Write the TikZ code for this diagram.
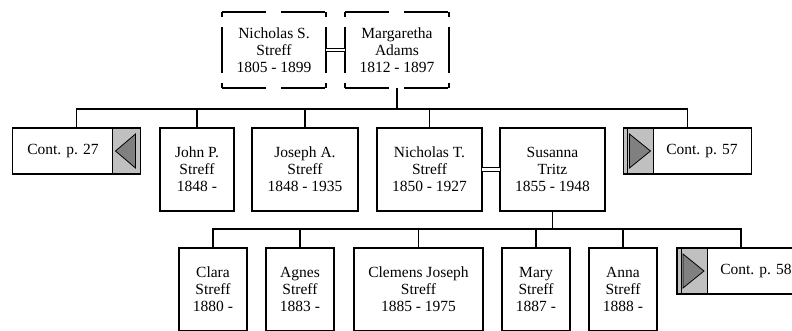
\documentclass[tikz,border=0pt]{standalone}
\usepackage{fontspec}
\setmainfont{Liberation Serif}
\definecolor{panelgray}{HTML}{C0C0C0}
\definecolor{arrowgray}{HTML}{808080}
\tikzset{
  person/.style={draw, line width=1.2pt, minimum height=83pt, inner sep=0pt, outer sep=0pt, align=center},
  parent/.style={minimum width=104pt, minimum height=76pt, inner sep=0pt, outer sep=0pt, align=center},
  hside/.style={line width=1.2pt, dash pattern=on 44pt off 15pt},
  vside/.style={line width=1.2pt, dash pattern=on 5pt off 10pt on 46pt off 10pt},
  contbox/.style={draw, line width=1.6pt, minimum width=128pt, minimum height=46pt, inner sep=0pt, outer sep=0pt},
  pointer/.style={fill=arrowgray, draw, line width=0.8pt},
  contleft/.style={contbox, path picture={
    \fill[panelgray] ([xshift=-28pt]path picture bounding box.north east) rectangle (path picture bounding box.south east);
    \draw[line width=0.6pt] ([xshift=-28pt]path picture bounding box.north east) -- ([xshift=-28pt]path picture bounding box.south east);
    \draw[pointer] ([xshift=-25pt]path picture bounding box.east) -- ([shift={(-5,-17)}]path picture bounding box.east)
      -- ([shift={(-5,17)}]path picture bounding box.east) -- cycle;}},
  contright/.style={contbox, path picture={
    \fill[panelgray] (path picture bounding box.north west) rectangle ([xshift=30pt]path picture bounding box.south west);
    \draw[line width=0.6pt] ([xshift=30pt]path picture bounding box.north west) -- ([xshift=30pt]path picture bounding box.south west);
    \draw[line width=0.8pt] ([xshift=4pt]path picture bounding box.north west) -- ([xshift=4pt]path picture bounding box.south west);
    \draw[pointer] ([xshift=27pt]path picture bounding box.west) -- ([shift={(6,-17)}]path picture bounding box.west)
      -- ([shift={(6,17)}]path picture bounding box.west) -- cycle;}},
  line/.style={line width=1.2pt},
  marriage/.style={double, double distance=2.5pt, line width=0.9pt}
}
\begin{document}
\begin{tikzpicture}[x=1pt, y=-1pt, font=\fontsize{15.5}{17}\selectfont]
  \clip (0,0) rectangle (792,330);
  % parents
  \node[parent] (nicholasS) at (274,50) {Nicholas S.\\Streff\\1805 - 1899};
  \node[parent] (margaretha) at (397,50) {Margaretha\\Adams\\1812 - 1897};
  \foreach \n in {nicholasS,margaretha} {
    \draw[hside] (\n.north west) -- (\n.north east);
    \draw[hside] (\n.south west) -- (\n.south east);
    \draw[vside] (\n.north west) -- (\n.south west);
    \draw[vside] (\n.north east) -- (\n.south east);
  }
  \draw[marriage] (nicholasS) -- (margaretha);

  % their children
  \node[contleft] (cont27) at (76.5,151) {};
  \node (cont27 text) at (63,151) {Cont. p. 27};
  \node[person, minimum width=74pt] (john) at (197,169.5) {John P.\\Streff\\1848 -};
  \node[person, minimum width=106pt] (joseph) at (305,169.5) {Joseph A.\\Streff\\1848 - 1935};
  \node[person, minimum width=105pt] (nicholasT) at (429.5,169.5) {Nicholas T.\\Streff\\1850 - 1927};
  \node[person, minimum width=105pt] (susanna) at (552.5,169.5) {Susanna\\Tritz\\1855 - 1948};
  \node[contright] (cont57) at (687.5,151) {};
  \node (cont57 text) at (702,151) {Cont. p. 57};
  \draw[marriage] (nicholasT) -- (susanna);

  \coordinate (top bar) at (397,109);
  \draw[line] (margaretha) -- (top bar);
  \draw[line] (cont27.north) |- (top bar) -| (cont57.north);
  \foreach \n in {john,joseph,nicholasT}
    \draw[line] (\n.north) -- (\n.north |- top bar);

  % grandchildren
  \node[person, minimum width=68pt] (clara) at (213,289.5) {Clara\\Streff\\1880 -};
  \node[person, minimum width=68pt] (agnes) at (300,289.5) {Agnes\\Streff\\1883 -};
  \node[person, minimum width=129pt] (clemens) at (418.5,289.5) {Clemens Joseph\\Streff\\1885 - 1975};
  \node[person, minimum width=68pt] (mary) at (536,289.5) {Mary\\Streff\\1887 -};
  \node[person, minimum width=68pt] (anna) at (623,289.5) {Anna\\Streff\\1888 -};
  \node[contright] (cont58) at (741,271) {};
  \node (cont58 text) at (756,271) {Cont. p. 58};

  \coordinate (low bar) at (552.5,229);
  \draw[line] (susanna) -- (low bar);
  \draw[line] (clara.north) |- (low bar) -| (cont58.north);
  \foreach \n in {agnes,clemens,mary,anna}
    \draw[line] (\n.north) -- (\n.north |- low bar);
\end{tikzpicture}
\end{document}
